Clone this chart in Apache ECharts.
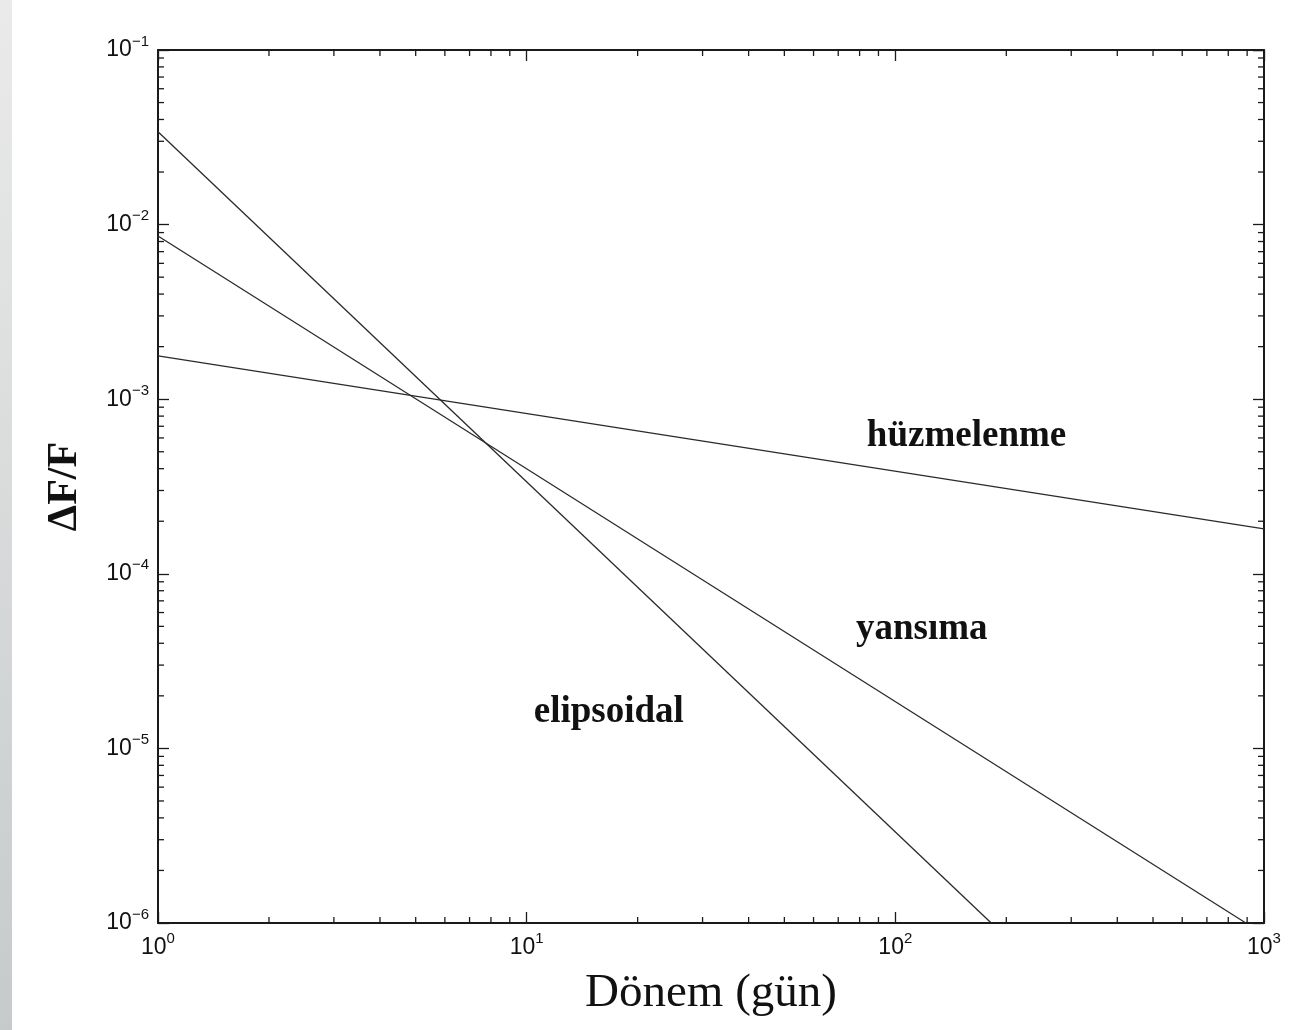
<!DOCTYPE html>
<html>
<head>
<meta charset="utf-8">
<script src="https://cdn.jsdelivr.net/npm/echarts@6/dist/echarts.min.js"></script>
<style>
html,body{margin:0;padding:0;background:#fff}
#chart{width:1291px;height:1030px}
</style>
</head>
<body>
<div id="chart"></div>
<script>
// axis ranges (log10)
var xRange=[1,1000];
var yRange=[1e-6,1e-1];

// line end points [P (gun), dF/F]
var elipsoidal=[[1,0.034],[182,1e-6]];
var yansima=[[1,0.0086],[893,1e-6]];
var huzmelenme=[[1,0.00177],[1000,0.000181]];

// text labels placed at data coords
var noteNames=['hüzmelenme','yansıma','elipsoidal'];
var noteCoords=[[156,6.1e-4],[118,4.8e-5],[16.7,1.6e-5]];

var mantissa=[2,3,4,5,6,7,8,9];

// minor tick positions per decade
var minorTicks=[];
for(var dx=0;dx<3;dx++){
    for(var i=0;i<mantissa.length;i++){
        minorTicks.push([mantissa[i]*Math.pow(10,dx),yRange[0],0]);
    }
}
for(var dy=-6;dy<-1;dy++){
    for(var j=0;j<mantissa.length;j++){
        minorTicks.push([xRange[0],mantissa[j]*Math.pow(10,dy),1]);
    }
}

var sans='"Liberation Sans", Arial, sans-serif';
var serif='"Liberation Serif", "Times New Roman", serif';
var ink='#1a1a1a';

function powLabel(v){
    var n=Math.round(Math.log10(v));
    var s=n<0?'\u2212'+(-n):''+n;
    return '{b|10}{s|'+s+'}';
}
var richLab={
    b:{fontSize:23,fontFamily:sans,color:'#111',lineHeight:23},
    s:{fontSize:15,fontFamily:sans,color:'#111',lineHeight:15,padding:[0,0,17,0]}
};

function logAxis(pos,range,show,extra){
    var a={
        type:'log',
        logBase:10,
        position:pos,
        min:range[0],
        max:range[1],
        splitLine:{show:false},
        axisLine:{show:true,lineStyle:{color:ink,width:2}},
        axisTick:{show:true,inside:true,length:11,lineStyle:{color:ink,width:1.3}},
        axisLabel:{show:show,formatter:powLabel,rich:richLab,margin:pos==='bottom'?13:9,
                   fontSize:23,fontFamily:sans,color:'#111'},
        minorTick:{show:false}
    };
    for(var k in extra) a[k]=extra[k];
    return a;
}

var chart=echarts.init(document.getElementById('chart'));

var lineStyle={color:'#2a2a2a',width:1.3};

var strip={
    type:'rect',
    left:0,top:0,
    shape:{width:12,height:1030},
    style:{fill:new echarts.graphic.LinearGradient(0,0,0,1,[
        {offset:0,color:'#eaeaea'},
        {offset:1,color:'#c6cacb'}
    ])},
    silent:true
};

chart.setOption({
    animation:false,
    backgroundColor:'#fff',
    grid:{left:158,right:27,top:50,bottom:107},
    graphic:[strip],
    xAxis:[
        logAxis('bottom',xRange,true,{
            name:'Dönem (gün)',
            nameLocation:'middle',
            nameGap:47,
            nameTextStyle:{fontFamily:serif,fontSize:47,color:'#111'}
        }),
        logAxis('top',xRange,false,{})
    ],
    yAxis:[
        logAxis('left',yRange,true,{
            name:'ΔF/F',
            nameLocation:'middle',
            nameRotate:90,
            nameGap:72,
            nameTextStyle:{fontFamily:serif,fontSize:42,fontWeight:'bold',color:'#111'}
        }),
        logAxis('right',yRange,false,{})
    ],
    series:[
        {type:'line',name:'elipsoidal',data:elipsoidal,symbol:'none',lineStyle:lineStyle},
        {type:'line',name:'yansıma',data:yansima,symbol:'none',lineStyle:lineStyle},
        {type:'line',name:'hüzmelenme',data:huzmelenme,symbol:'none',lineStyle:lineStyle},
        {
            type:'custom',
            name:'minor',
            silent:true,
            data:minorTicks,
            encode:{x:0,y:1},
            renderItem:function(params,api){
                var kind=api.value(2);
                var len=6;
                var st={stroke:ink,lineWidth:1.3};
                if(kind===0){
                    var b=api.coord([api.value(0),yRange[0]]);
                    var t=api.coord([api.value(0),yRange[1]]);
                    return {type:'group',children:[
                        {type:'line',shape:{x1:b[0],y1:b[1],x2:b[0],y2:b[1]-len},style:st},
                        {type:'line',shape:{x1:t[0],y1:t[1],x2:t[0],y2:t[1]+len},style:st}
                    ]};
                }
                var l=api.coord([xRange[0],api.value(1)]);
                var r=api.coord([xRange[1],api.value(1)]);
                return {type:'group',children:[
                    {type:'line',shape:{x1:l[0],y1:l[1],x2:l[0]+len,y2:l[1]},style:st},
                    {type:'line',shape:{x1:r[0],y1:r[1],x2:r[0]-len,y2:r[1]},style:st}
                ]};
            }
        }
    ]
});

// annotations, placed through the grid's own scales
var texts=[strip];
for(var q=0;q<noteNames.length;q++){
    var p=chart.convertToPixel({gridIndex:0},noteCoords[q]);
    texts.push({
        type:'text',
        x:p[0],y:p[1],
        silent:true,
        style:{text:noteNames[q],fill:'#111',font:'bold 37px '+serif,
               textAlign:'center',textVerticalAlign:'middle'}
    });
}
chart.setOption({graphic:texts},{replaceMerge:['graphic']});
</script>
</body>
</html>
